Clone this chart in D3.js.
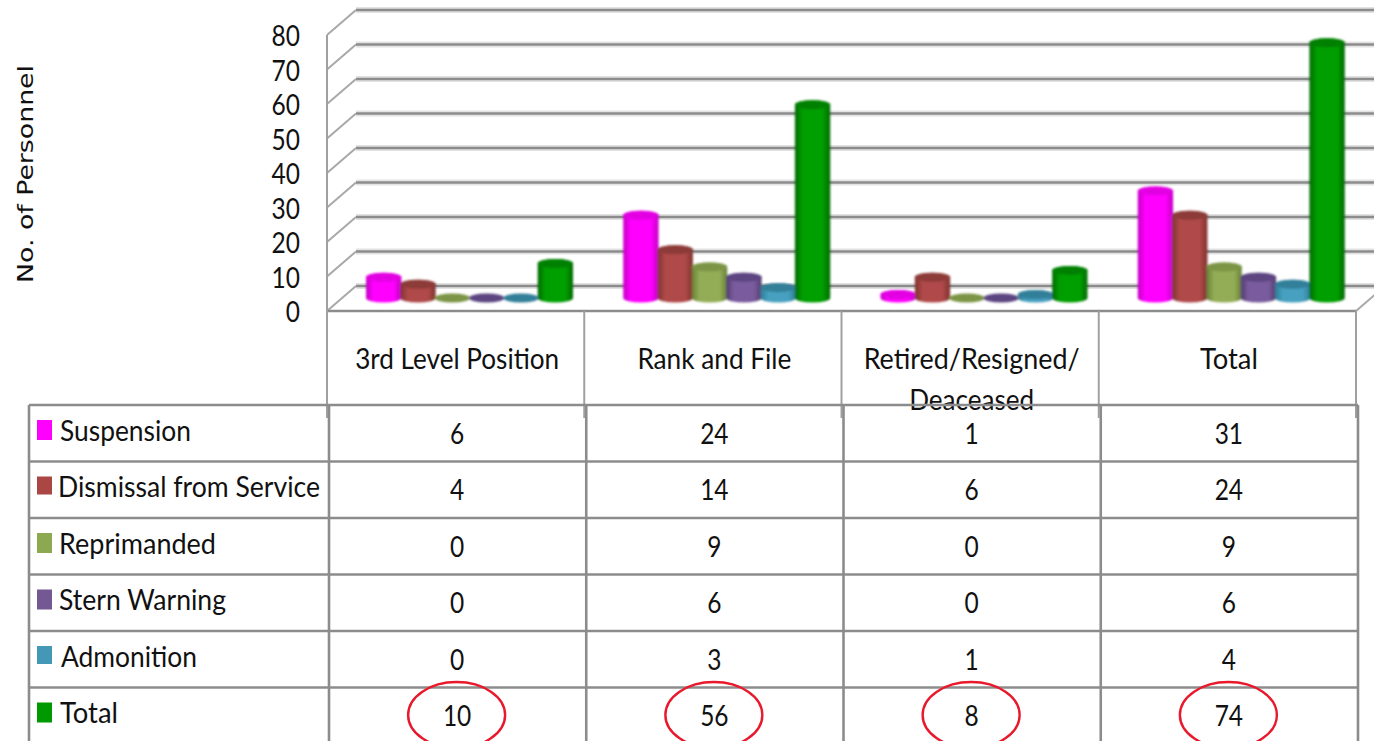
<!DOCTYPE html>
<html>
<head>
<meta charset="utf-8">
<script src="https://cdn.jsdelivr.net/npm/d3@7"></script>
<style>
  html, body { margin: 0; padding: 0; background: #fff; overflow: hidden; }
  svg { display: block; }
  text { font-family: Lato, "Noto Sans", sans-serif; fill: #111; }
</style>
</head>
<body>
<div id="chart"></div>
<script>
const categories = ["3rd Level Position", "Rank and File", "Retired/Resigned/ Deaceased", "Total"];
const seriesNames = ["Suspension", "Dismissal from Service", "Reprimanded", "Stern Warning", "Admonition", "Total"];
const suspension = [6, 24, 1, 31];
const dismissal = [4, 14, 6, 24];
const reprimanded = [0, 9, 0, 9];
const sternWarning = [0, 6, 0, 6];
const admonition = [0, 3, 1, 4];
const totals = [10, 56, 8, 74];
const yTicks = [0, 10, 20, 30, 40, 50, 60, 70, 80];

const seriesValues = [suspension, dismissal, reprimanded, sternWarning, admonition, totals];

// side, centre, top cap for each series
const colors = [
    ["#c400c4", "#ff00ff", "#e200e2"],
    ["#7e3331", "#b04a48", "#8c3a38"],
    ["#688039", "#93ad56", "#7c9444"],
    ["#523d70", "#7a5c9e", "#5c4580"],
    ["#2f7d96", "#46a0c0", "#337f99"],
    ["#006a00", "#009f00", "#008000"]
];
const swatchColors = ["#ff00ff", "#aa4644", "#8ca850", "#735893", "#4298b5", "#009a00"];

const width = 1374;
const height = 741;
const depthX = 29;
const depthY = -25;
const gridColor = "#8c8c8c";
const fontSize = "28.5px";
const digitW = 14.2;

// layout of the legend labels: left edge and drawn width
const legendX = [60, 58, 59, 59, 61, 60];
const legendW = [131, 262, 157, 167, 136, 58];
const categoryW = [204, 154, 216, 58];

const svg = d3.select("#chart").append("svg")
    .attr("width", width)
    .attr("height", height);

const x = d3.scaleBand().domain(d3.range(categories.length)).range([327, 1356]);
const xSeries = d3.scaleBand().domain(d3.range(seriesNames.length)).range([39, 245]);
const yFront = d3.scaleLinear().domain([0, 80]).range([311, 35]);
const yBar = d3.scaleLinear().domain([0, 80]).range([298, 22]);
const yRow = d3.scaleBand().domain(d3.range(seriesNames.length)).range([405, 744]);

// soft edges, the source picture is an upscaled screenshot
const defs = svg.append("defs");
defs.append("filter").attr("id", "soft")
    .append("feGaussianBlur").attr("stdDeviation", 0.8);
defs.append("filter").attr("id", "softLine")
    .append("feGaussianBlur").attr("stdDeviation", 0.5);

colors.forEach((c, i) => {
    const g = defs.append("linearGradient").attr("id", "cyl" + i);
    g.append("stop").attr("offset", "0%").attr("stop-color", c[0]);
    g.append("stop").attr("offset", "22%").attr("stop-color", c[1]);
    g.append("stop").attr("offset", "78%").attr("stop-color", c[1]);
    g.append("stop").attr("offset", "100%").attr("stop-color", c[0]);
});

// back wall grid and left wall diagonals
const grid = svg.append("g").attr("filter", "url(#softLine)");
const xRight = width + 10;

grid.selectAll("line.halo").data(yTicks).enter().append("line")
    .attr("class", "halo")
    .attr("x1", 327 + depthX).attr("x2", xRight)
    .attr("y1", d => yFront(d) + depthY).attr("y2", d => yFront(d) + depthY)
    .attr("stroke", "#e2e2e2").attr("stroke-width", 6);
grid.selectAll("line.back").data(yTicks).enter().append("line")
    .attr("class", "back")
    .attr("x1", 327 + depthX).attr("x2", xRight)
    .attr("y1", d => yFront(d) + depthY).attr("y2", d => yFront(d) + depthY)
    .attr("stroke", gridColor).attr("stroke-width", 2.4);
grid.selectAll("line.side").data(yTicks).enter().append("line")
    .attr("class", "side")
    .attr("x1", 327).attr("x2", 327 + depthX)
    .attr("y1", d => yFront(d)).attr("y2", d => yFront(d) + depthY)
    .attr("stroke", "#a8a8a8").attr("stroke-width", 2);

// front of the floor and the category box
grid.append("line").attr("x1", 1356).attr("x2", 1356 + depthX)
    .attr("y1", 311).attr("y2", 311 + depthY)
    .attr("stroke", "#a8a8a8").attr("stroke-width", 2);
grid.append("line").attr("x1", 327).attr("x2", 1356)
    .attr("y1", 311).attr("y2", 311)
    .attr("stroke", gridColor).attr("stroke-width", 2.6);
grid.append("line").attr("x1", 327).attr("x2", 327)
    .attr("y1", 35).attr("y2", 311)
    .attr("stroke", "#a0a0a0").attr("stroke-width", 2);
grid.selectAll("line.catTick").data(d3.range(categories.length + 1)).enter().append("line")
    .attr("class", "catTick")
    .attr("x1", d => 327 + d * x.bandwidth()).attr("x2", d => 327 + d * x.bandwidth())
    .attr("y1", 311).attr("y2", 418)
    .attr("stroke", "#a0a0a0").attr("stroke-width", 2);

// cylinders, series by series so the later ones sit over the earlier ones
const bars = svg.append("g").attr("filter", "url(#soft)");
const ry = 4.5;

function cylinder(x0, w, yTop, yBase) {
    const rx = w / 2;
    return `M${x0},${yTop}L${x0},${yBase}A${rx},${ry} 0 0 0 ${x0 + w},${yBase}L${x0 + w},${yTop}A${rx},${ry} 0 0 0 ${x0},${yTop}Z`;
}

categories.forEach((cat, c) => {
    seriesValues.forEach((vals, s) => {
        const x0 = x(c) + xSeries(s);
        const w = xSeries.bandwidth() + 1;
        const v = vals[c];
        if (v > 0) {
            bars.append("path")
                .attr("d", cylinder(x0, w, yBar(v), yBar(0)))
                .attr("fill", `url(#cyl${s})`);
        }
        bars.append("ellipse")
            .attr("cx", x0 + w / 2)
            .attr("cy", yBar(v))
            .attr("rx", w / 2)
            .attr("ry", ry)
            .attr("fill", colors[s][2]);
    });
});

// y axis
const yAxis = d3.axisLeft(yFront).tickValues(yTicks).tickSize(0).tickPadding(0);
const yG = svg.append("g").attr("transform", "translate(300,1.5)").call(yAxis);
yG.select(".domain").remove();
yG.selectAll("text")
    .style("font-size", fontSize)
    .attr("textLength", d => String(d).length * digitW)
    .attr("lengthAdjust", "spacingAndGlyphs");

svg.append("text")
    .attr("transform", "translate(33,174) rotate(-90)")
    .attr("text-anchor", "middle")
    .style("font-family", "'DejaVu Sans', sans-serif")
    .style("font-size", "22px")
    .attr("textLength", 218)
    .attr("lengthAdjust", "spacingAndGlyphs")
    .text("No. of Personnel");

// category labels
categories.forEach((cat, i) => {
    const cx = x(i) + x.bandwidth() / 2 + 1.5;
    const parts = cat.includes("/") ? cat.split(" ") : [cat];
    parts.forEach((p, j) => {
        svg.append("text")
            .attr("x", cx).attr("y", 369 + j * 41)
            .attr("text-anchor", "middle")
            .attr("textLength", j === 0 ? categoryW[i] : 125)
            .attr("lengthAdjust", "spacingAndGlyphs")
            .style("font-size", fontSize)
            .text(p);
    });
});

// data table grid
const table = svg.append("g").attr("filter", "url(#softLine)");
const colLines = [29].concat(d3.range(categories.length + 1).map(d => 329 + d * x.bandwidth()));

table.selectAll("line.row").data(d3.range(seriesNames.length)).enter().append("line")
    .attr("class", "row")
    .attr("x1", 29).attr("x2", 1358)
    .attr("y1", d => yRow(d)).attr("y2", d => yRow(d))
    .attr("stroke", gridColor).attr("stroke-width", 2.6);
table.selectAll("line.col").data(colLines).enter().append("line")
    .attr("class", "col")
    .attr("x1", d => d).attr("x2", d => d)
    .attr("y1", 405).attr("y2", height)
    .attr("stroke", gridColor).attr("stroke-width", 2.6);

// legend keys and names
seriesNames.forEach((name, s) => {
    const rowTop = yRow(s);
    svg.append("rect")
        .attr("x", 37).attr("y", rowTop + 15)
        .attr("width", 15).attr("height", s === 1 || s === 4 ? 18 : 20)
        .attr("fill", swatchColors[s]);
    svg.append("text")
        .attr("x", legendX[s]).attr("y", rowTop + 35.5)
        .attr("textLength", legendW[s])
        .attr("lengthAdjust", "spacingAndGlyphs")
        .style("font-size", fontSize)
        .text(name);
});

// table values
seriesValues.forEach((vals, s) => {
    vals.forEach((v, c) => {
        svg.append("text")
            .attr("x", x(c) + x.bandwidth() / 2 + 1.5)
            .attr("y", yRow(s) + 38.5)
            .attr("text-anchor", "middle")
            .attr("textLength", String(v).length * digitW)
            .attr("lengthAdjust", "spacingAndGlyphs")
            .style("font-size", fontSize)
            .text(v);
    });
});

// red circles round the totals
svg.append("g").selectAll("ellipse").data(totals).enter().append("ellipse")
    .attr("cx", (d, i) => x(i) + x.bandwidth() / 2 + 1)
    .attr("cy", 715)
    .attr("rx", 48.5)
    .attr("ry", 33)
    .attr("fill", "none")
    .attr("stroke", "#e8192c")
    .attr("stroke-width", 2.4);
</script>
</body>
</html>
